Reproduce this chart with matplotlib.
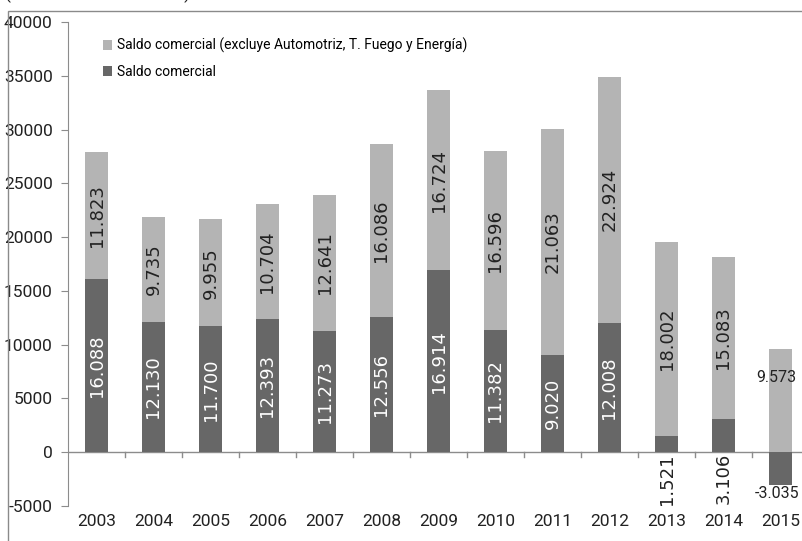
import matplotlib
matplotlib.use("Agg")
import matplotlib.pyplot as plt
from matplotlib.patches import Rectangle
import numpy as np

# datos (millones de USD)
years = ['2003', '2004', '2005', '2006', '2007', '2008', '2009',
         '2010', '2011', '2012', '2013', '2014', '2015']
saldo = [16088, 12130, 11700, 12393, 11273, 12556, 16914,
         11382, 9020, 12008, 1521, 3106, -3035]
saldo_excl = [11823, 9735, 9955, 10704, 12641, 16086, 16724,
              16596, 21063, 22924, 18002, 15083, 9573]
yticks = [-5000, 0, 5000, 10000, 15000, 20000, 25000, 30000, 35000, 40000]

DARK = '#676767'
LIGHT = '#b4b4b4'
AXC = '#8c8c8c'


def fmt(v):
    return f"{v:,}".replace(',', '.')


plt.rcParams['font.family'] = ['Roboto', 'DejaVu Sans']

fig = plt.figure(figsize=(8.02, 5.41), dpi=100)
W, H = 802, 541
ax = fig.add_axes([68 / W, 1 - 506 / H, 741 / W, (506 - 22) / H])

x = np.arange(len(years))
bottoms = [max(d, 0) for d in saldo]
w = 0.39
ax.bar(x, saldo_excl, w, bottom=bottoms, color=LIGHT,
       label='Saldo comercial (excluye Automotriz, T. Fuego y Energía)', zorder=2)
ax.bar(x, saldo, w, color=DARK, label='Saldo comercial', zorder=2)

# etiquetas de valores
for i, (d, l) in enumerate(zip(saldo, saldo_excl)):
    if years[i] == '2015':
        ax.text(i - 0.07, 6950, fmt(l), ha='center', va='center', fontsize=11.5, color='#222222')
        ax.text(i - 0.06, d - 150, fmt(d), ha='center', va='top', fontsize=11.5, color='#222222')
        continue
    ax.text(i, bottoms[i] + l / 2, fmt(l), rotation=90, ha='center', va='center',
            fontsize=13, family='DejaVu Sans', color='#222222')
    if d > 5000:
        ax.text(i, d / 2, fmt(d), rotation=90, ha='center', va='center',
                fontsize=13, family='DejaVu Sans', color='white')
    else:
        ax.text(i, -80, fmt(d), rotation=90, ha='center', va='top',
                fontsize=13, family='DejaVu Sans', color='#222222')

ax.set_xlim(-0.5, len(years) - 0.5)
ax.set_ylim(-5000, 40000)
ax.set_yticks(yticks)
ax.set_yticklabels([str(t) for t in yticks], fontsize=12.5)
ax.tick_params(axis='y', length=5, color=AXC, pad=6, labelcolor='#222222')

# eje x en cero, ticks entre categorías
ax.set_xticks([])
ax.axhline(0, color=AXC, lw=1, zorder=1)
for b in np.arange(0.5, len(years) - 0.5, 1.0):
    ax.plot([b, b], [0, -450], color=AXC, lw=1, zorder=1, clip_on=False)
for i, yr in enumerate(years):
    ax.text(i, -6450, yr, ha='center', va='center', fontsize=12.5, color='#222222')

for s in ['top', 'right', 'bottom']:
    ax.spines[s].set_visible(False)
ax.spines['left'].set_color(AXC)

leg = ax.legend(loc='upper left', bbox_to_anchor=(0.03, 0.993), frameon=False,
                fontsize=10, handlelength=0.7, handleheight=0.7, handletextpad=0.3,
                labelspacing=0.85)

# marco del área del gráfico y título recortado
fig.patches.append(Rectangle((8 / W, -0.1), 1.2, 1 - 11 / H + 0.1, transform=fig.transFigure,
                             fill=False, edgecolor='#8a8a8a', lw=1))
fig.text(5 / W, 1 + 1 / H, '(en millones de dólares)', fontsize=12.5,
         va='baseline', ha='left', color='#222222')

fig.savefig('out.png', dpi=100)
